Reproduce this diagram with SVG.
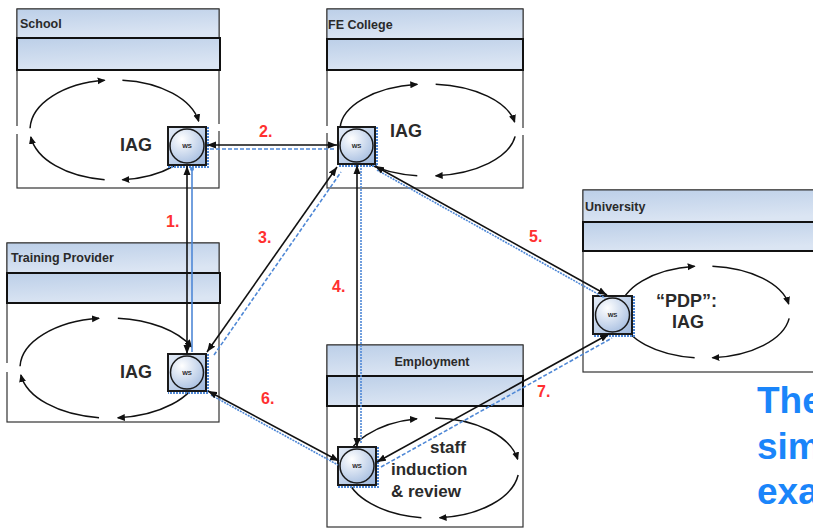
<svg xmlns="http://www.w3.org/2000/svg" width="813" height="529" viewBox="0 0 813 529">
<style>
.hdr{fill:url(#hg);stroke:#333;stroke-width:1}
.band{fill:url(#hg);stroke:#111;stroke-width:2}
.body{fill:#fff;stroke:#333;stroke-width:1.2}
.lbl{font-family:"Liberation Sans",Arial,sans-serif;font-weight:bold;font-size:12.5px;fill:#2a2a2a}
.big{font-family:"Liberation Sans",Arial,sans-serif;font-weight:bold;font-size:18px;fill:#2a2a2a}
.emp{font-family:"Liberation Sans",Arial,sans-serif;font-weight:bold;font-size:17px;fill:#2a2a2a}
.num{font-family:"Liberation Sans",Arial,sans-serif;font-weight:bold;font-size:16px;fill:#ff3030}
.blue{font-family:"Liberation Sans",Arial,sans-serif;font-weight:bold;font-size:37px;fill:#1a85fa}
.cyc{fill:none;stroke:#111;stroke-width:1.5;marker-end:url(#sa)}
.gap{stroke:#fff;stroke-width:3}
.conn{fill:none;stroke:#111;stroke-width:1.6;marker-start:url(#ca);marker-end:url(#ca)}
.bl{fill:none;stroke:#4f88d6;stroke-width:1.6}
.dash{stroke-dasharray:4 2}
.dot{stroke-dasharray:2 1}
.wsq{fill:url(#wg);stroke:#1a1a1a;stroke-width:2}
.wci{fill:url(#cg);stroke:#1a1a1a;stroke-width:1.5}
.wbd{fill:none;stroke:#4f88d6;stroke-width:2;stroke-dasharray:2 1}
.wst{font-family:"Liberation Sans",Arial,sans-serif;font-weight:bold;font-size:6px;fill:#222;text-anchor:middle}
</style>
<defs>
<linearGradient id="hg" x1="0" y1="0" x2="0.3" y2="1">
<stop offset="0" stop-color="#bccfe8"/>
<stop offset="1" stop-color="#dbe5f3"/>
</linearGradient>
<linearGradient id="wg" x1="0" y1="0" x2="1" y2="1">
<stop offset="0" stop-color="#e3ebf6"/>
<stop offset="1" stop-color="#9fb8dc"/>
</linearGradient>
<radialGradient id="cg" cx="0.35" cy="0.3" r="0.8">
<stop offset="0" stop-color="#ffffff"/>
<stop offset="1" stop-color="#a5bde0"/>
</radialGradient>
<marker id="sa" viewBox="0 0 8 8" refX="7" refY="4" markerWidth="8" markerHeight="8" markerUnits="userSpaceOnUse" orient="auto">
<path d="M0,0.5 L8,4 L0,7.5 z" fill="#111"/>
</marker>
<marker id="ca" viewBox="0 0 9 8" refX="9" refY="4" markerWidth="9" markerHeight="8" markerUnits="userSpaceOnUse" orient="auto-start-reverse">
<path d="M0,0.5 L9,4 L0,7.5 z" fill="#111"/>
</marker>
</defs>
<rect width="813" height="529" fill="#fff"/>

<g id="school">
<rect class="body" x="17" y="9" width="202" height="179"/>
<rect class="hdr" x="17" y="9" width="202" height="29"/>
<rect class="band" x="17" y="38" width="203" height="32"/>
<text class="lbl" x="20" y="28">School</text>
<line class="gap" x1="17" y1="126" x2="17" y2="134"/>
<line class="gap" x1="219" y1="124" x2="219" y2="131"/>
<path class="cyc" d="M30.05,128.25 A85,50 0 0 1 104.64,80.37"/>
<path class="cyc" d="M122.41,80.19 A85,50 0 0 1 198.71,121.32"/>
<path class="cyc" d="M199.17,136.96 A85,50 0 0 1 122.41,179.81"/>
<path class="cyc" d="M104.64,179.63 A85,50 0 0 1 30.83,136.96"/>
<text class="big" x="120" y="151">IAG</text>
<g id="ws-school">
<polyline class="wbd" points="208,127 208,167 168,167"/>
<rect class="wsq" x="168" y="127" width="38" height="38"/>
<circle class="wci" cx="187" cy="146" r="17"/>
<text class="wst" x="187" y="148">WS</text>
</g>
</g>

<g id="fe-college">
<rect class="body" x="327" y="9" width="196" height="179"/>
<rect class="hdr" x="327" y="9" width="196" height="30"/>
<rect class="band" x="327" y="39" width="196" height="31"/>
<text class="lbl" x="328" y="29">FE College</text>
<line class="gap" x1="327" y1="126" x2="327" y2="133"/>
<line class="gap" x1="523" y1="128" x2="523" y2="135"/>
<path class="cyc" d="M340.05,128.39 A88,46 0 0 1 417.28,84.34"/>
<path class="cyc" d="M435.67,84.18 A88,46 0 0 1 514.66,122.01"/>
<path class="cyc" d="M515.14,136.40 A88,46 0 0 1 435.67,175.82"/>
<path class="cyc" d="M417.28,175.66 A88,46 0 0 1 340.86,136.40"/>
<text class="big" x="390" y="137">IAG</text>
<g id="ws-fe">
<polyline class="wbd" points="377,127 377,166 338,166"/>
<rect class="wsq" x="338" y="127" width="37" height="37"/>
<circle class="wci" cx="356.5" cy="145.5" r="16.5"/>
<text class="wst" x="356.5" y="147.5">WS</text>
</g>
</g>

<g id="training-provider">
<rect class="body" x="7" y="243" width="212" height="179"/>
<rect class="hdr" x="7" y="243" width="212" height="30"/>
<rect class="band" x="7" y="273" width="213" height="30"/>
<text class="lbl" x="11" y="262">Training Provider</text>
<line class="gap" x1="7" y1="363" x2="7" y2="372"/>
<path class="cyc" d="M20.05,366.25 A90,50 0 0 1 99.03,318.37"/>
<path class="cyc" d="M117.84,318.19 A90,50 0 0 1 191.57,346.87"/>
<path class="cyc" d="M199.12,374.96 A90,50 0 0 1 117.84,417.81"/>
<path class="cyc" d="M99.03,417.63 A90,50 0 0 1 20.88,374.96"/>
<text class="big" x="120" y="378">IAG</text>
<g id="ws-tp">
<polyline class="wbd" points="208,354 208,393 168,393"/>
<rect class="wsq" x="168" y="354" width="38" height="37"/>
<circle class="wci" cx="187" cy="372.5" r="16.5"/>
<text class="wst" x="187" y="374.5">WS</text>
</g>
</g>

<g id="employment">
<rect class="body" x="327" y="345" width="196" height="182"/>
<rect class="hdr" x="327" y="345" width="196" height="31"/>
<rect class="band" x="327" y="376" width="196" height="30"/>
<text class="lbl" x="432" y="366" text-anchor="middle" font-size="13">Employment</text>
<path class="cyc" d="M345.05,466.25 A87,50 0 0 1 416.89,418.76"/>
<path class="cyc" d="M435.04,418.03 A87,50 0 0 1 517.68,459.32"/>
<path class="cyc" d="M518.15,474.96 A87,50 0 0 1 439.58,517.81"/>
<path class="cyc" d="M421.40,517.63 A87,50 0 0 1 345.85,474.96"/>
<text class="emp" x="430" y="453">staff</text>
<text class="emp" x="391" y="475">induction</text>
<text class="emp" x="391" y="497">&amp; review</text>
<g id="ws-emp">
<polyline class="wbd" points="378,447 378,487 338,487"/>
<rect class="wsq" x="338" y="447" width="38" height="38"/>
<circle class="wci" cx="357" cy="466" r="17"/>
<text class="wst" x="357" y="468">WS</text>
</g>
</g>

<g id="university">
<rect class="body" x="583" y="190" width="250" height="182"/>
<rect class="hdr" x="583" y="190" width="250" height="32"/>
<rect class="band" x="583" y="222" width="250" height="29"/>
<text class="lbl" x="585" y="211">University</text>
<path class="cyc" d="M620.05,310.39 A85,46 0 0 1 694.64,266.34"/>
<path class="cyc" d="M712.41,266.18 A85,46 0 0 1 788.71,304.01"/>
<path class="cyc" d="M789.17,318.40 A85,46 0 0 1 712.41,357.82"/>
<path class="cyc" d="M694.64,357.66 A85,46 0 0 1 620.83,318.40"/>
<text class="big" x="656" y="307">“PDP”:</text>
<text class="big" x="672" y="328">IAG</text>
<g id="ws-univ">
<polyline class="wbd" points="634,296 634,336 593,336"/>
<rect class="wsq" x="593" y="296" width="39" height="38"/>
<circle class="wci" cx="612.5" cy="315" r="17"/>
<text class="wst" x="612.5" y="317">WS</text>
</g>
</g>

<g id="connectors">
<line class="bl" x1="192" y1="170" x2="192" y2="352"/>
<circle cx="192" cy="169" r="2" fill="#4f88d6"/>
<line class="conn" x1="187" y1="166" x2="187" y2="354"/>
<line class="bl dash" x1="210" y1="149" x2="336" y2="149"/>
<line class="conn" x1="207" y1="145" x2="337" y2="145"/>
<line class="bl dash" x1="214" y1="355" x2="341" y2="172"/>
<line class="conn" x1="207" y1="352" x2="337" y2="167"/>
<line class="bl dot" x1="361" y1="168" x2="361" y2="444"/>
<line class="conn" x1="357" y1="165" x2="357" y2="447"/>
<line class="bl dot" x1="377" y1="170" x2="605" y2="298"/>
<line class="conn" x1="375" y1="166" x2="607" y2="295"/>
<line class="bl dot" x1="211" y1="395" x2="338" y2="465"/>
<line class="conn" x1="208" y1="391" x2="339" y2="461"/>
<line class="bl dash" x1="381" y1="467" x2="612" y2="338"/>
<line class="conn" x1="377" y1="462" x2="609" y2="334"/>
<text class="num" x="166" y="227">1.</text>
<text class="num" x="259" y="137">2.</text>
<text class="num" x="258" y="243">3.</text>
<text class="num" x="332" y="292">4.</text>
<text class="num" x="529" y="242">5.</text>
<text class="num" x="261" y="404">6.</text>
<text class="num" x="537" y="397">7.</text>
</g>

<g id="caption">
<text class="blue" x="757" y="413">The</text>
<text class="blue" x="757" y="459">sim</text>
<text class="blue" x="757" y="504">exa</text>
</g>
</svg>
